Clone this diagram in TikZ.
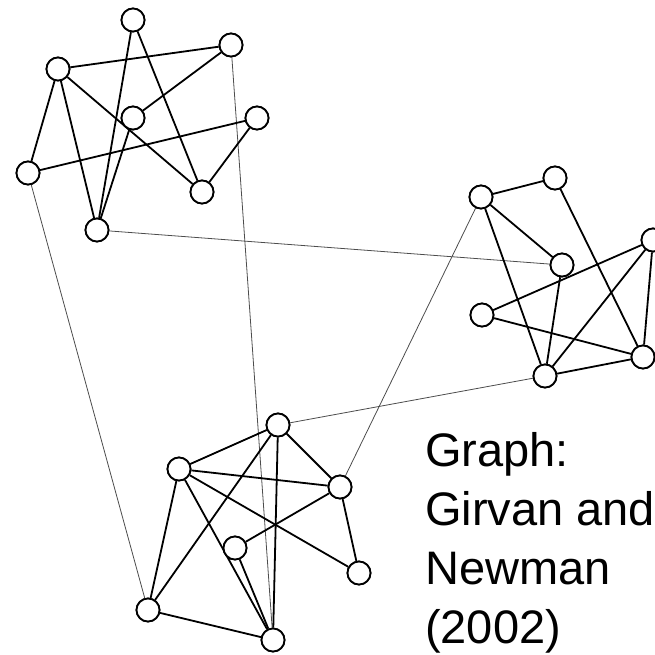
\documentclass[tikz,border=0pt]{standalone}
\usepackage{fontspec}
\setmainfont{Liberation Sans}
\begin{document}
\begin{tikzpicture}[x=1pt,y=-1pt,
  vtx/.style={circle,draw=black,fill=white,line width=1.8pt,minimum size=23pt,inner sep=0pt},
  edge/.style={line width=1.8pt,black},
  link/.style={line width=0.8pt,black!70}]
\useasboundingbox (0,0) rectangle (655,654);
\clip (0,0) rectangle (655,654);
% cluster A
\node[vtx] (a1) at (133,20) {};
\node[vtx] (a2) at (231,45) {};
\node[vtx] (a3) at (58,69) {};
\node[vtx] (a4) at (133,118) {};
\node[vtx] (a5) at (257,118) {};
\node[vtx] (a6) at (28,173) {};
\node[vtx] (a7) at (202,192) {};
\node[vtx] (a8) at (97,230) {};
% cluster B
\node[vtx] (b1) at (481,197) {};
\node[vtx] (b2) at (555,178) {};
\node[vtx] (b3) at (562,265) {};
\node[vtx] (b4) at (653,240) {};
\node[vtx] (b5) at (482,315) {};
\node[vtx] (b6) at (643,357) {};
\node[vtx] (b7) at (545,376) {};
% cluster C
\node[vtx] (c1) at (278,425) {};
\node[vtx] (c2) at (179,469) {};
\node[vtx] (c3) at (340,487) {};
\node[vtx] (c4) at (235,548) {};
\node[vtx] (c5) at (359,573) {};
\node[vtx] (c6) at (148,610) {};
\node[vtx] (c7) at (273,640) {};
% inter-cluster links
\draw[link] (a2) -- (c7);
\draw[link] (a6) -- (c6);
\draw[link] (a8) -- (b3);
\draw[link] (b1) -- (c3);
\draw[link] (b7) -- (c1);
% edges A
\draw[edge] (a3) -- (a2);
\draw[edge] (a3) -- (a6);
\draw[edge] (a3) -- (a8);
\draw[edge] (a3) -- (a7);
\draw[edge] (a1) -- (a8);
\draw[edge] (a1) -- (a7);
\draw[edge] (a4) -- (a2);
\draw[edge] (a4) -- (a8);
\draw[edge] (a6) -- (a5);
\draw[edge] (a5) -- (a7);
% edges B
\draw[edge] (b1) -- (b2);
\draw[edge] (b1) -- (b3);
\draw[edge] (b1) -- (b7);
\draw[edge] (b2) -- (b6);
\draw[edge] (b5) -- (b4);
\draw[edge] (b5) -- (b6);
\draw[edge] (b3) -- (b7);
\draw[edge] (b4) -- (b7);
\draw[edge] (b4) -- (b6);
\draw[edge] (b7) -- (b6);
% edges C
\draw[edge] (c1) -- (c2);
\draw[edge] (c1) -- (c3);
\draw[edge] (c1) -- (c6);
\draw[edge] (c1) -- (c7);
\draw[edge] (c2) -- (c3);
\draw[edge] (c2) -- (c5);
\draw[edge] (c2) -- (c6);
\draw[edge] (c2) -- (c7);
\draw[edge] (c3) -- (c4);
\draw[edge] (c3) -- (c5);
\draw[edge] (c4) -- (c7);
\draw[edge] (c6) -- (c7);
% redraw nodes on top
\foreach \n in {a1,a2,a3,a4,a5,a6,a7,a8,b1,b2,b3,b4,b5,b6,b7,c1,c2,c3,c4,c5,c6,c7}
  \node[vtx] at (\n) {};
\node[anchor=base west,inner sep=0pt,align=left,font=\fontsize{47}{59}\selectfont] (cap) at (425,643)
  {Graph:\\Girvan and\\Newman\\(2002)};
\end{tikzpicture}
\end{document}
